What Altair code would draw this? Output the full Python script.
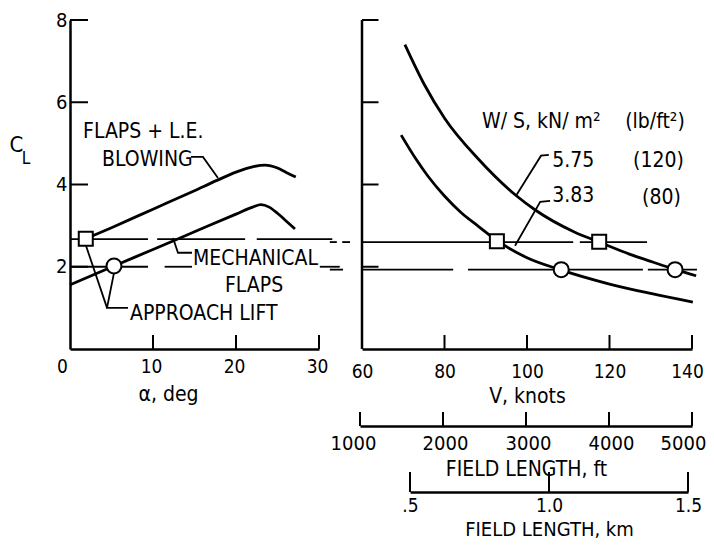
import altair as alt
import pandas as pd

FONT = "DejaVu Sans Condensed, Liberation Sans Narrow, DejaVu Sans, sans-serif"

# ---------------- data ----------------
# Left panel: C_L vs angle of attack
alpha_blowing = [1.9, 5, 10, 15, 17.7, 20, 22, 23.5, 25, 26, 27.2]
cl_blowing = [2.68, 2.95, 3.4, 3.85, 4.1, 4.3, 4.43, 4.47, 4.4, 4.3, 4.18]
alpha_mech = [0, 5.3, 10, 15, 20, 22, 23, 24, 25, 26, 27.1]
cl_mech = [1.56, 2.02, 2.42, 2.85, 3.28, 3.45, 3.51, 3.45, 3.3, 3.12, 2.92]

# Right panel: C_L vs approach speed for two wing loadings
v_575 = [70.4, 75, 80.1, 88.2, 97.5, 102, 111.6, 117.5, 125, 130, 136, 141]
cl_575 = [7.4, 6.45, 5.6, 4.62, 3.72, 3.38, 2.84, 2.6, 2.3, 2.13, 1.93, 1.78]
v_383 = [69.5, 73, 76, 80, 84, 88, 92.7, 100, 108, 120, 130, 140.2]
cl_383 = [5.2, 4.63, 4.2, 3.72, 3.32, 3.0, 2.64, 2.22, 1.93, 1.58, 1.35, 1.14]

# Approach-lift markers
left_square_alpha = [1.9]
left_square_cl = [2.68]
left_circle_alpha = [5.3]
left_circle_cl = [2.02]
right_square_v = [92.7, 117.5]
right_square_cl = [2.62, 2.61]
right_circle_v = [108.3, 135.9]
right_circle_cl = [1.93, 1.93]

# Dashed approach-lift lines (segments as drawn)
left_hi_cl = 2.67
left_hi_start = [0, 10.5, 22.5]
left_hi_end = [9.4, 21.1, 31.6]
left_lo_cl = 2.0
left_lo_start = [0, 11.4, 30.1]
left_lo_end = [9.4, 14.7, 32.5]
right_hi_cl = 2.6
right_hi_start = [52.2, 55.2, 60, 112.8]
right_hi_end = [53.9, 57.1, 111.2, 129.1]
right_lo_cl = 1.93
right_lo_start = [52.2, 60, 85.7, 129.3]
right_lo_end = [55.4, 82.1, 128.1, 141.2]

# Axis ticks
alpha_ticks = [0, 10, 20, 30]
v_ticks = [60, 80, 100, 120, 140]
cl_ticks = [2, 4, 6, 8]
ft_ticks = [1000, 2000, 3000, 4000, 5000]
km_ticks = [0.5, 1.0, 1.5]

# Annotations (left panel, in alpha / C_L units)
left_text = ["FLAPS + L.E.", "BLOWING", "MECHANICAL", "FLAPS", "APPROACH LIFT", "C", "L"]
left_text_a = [1.57, 3.86, 14.82, 18.67, 7.23, -7.3, -5.8]
left_text_c = [5.13, 4.45, 2.04, 1.39, 0.71, 4.8, 4.5]
left_text_size = [21, 21, 21, 21, 21, 22, 17]

# Leader lines (left)
lead_l_group = [0, 0, 0, 1, 1, 1, 2, 2, 3, 3, 3]
lead_l_a = [14.58, 16.02, 17.83, 12.41, 13.01, 14.7, 1.93, 4.46, 5.3, 4.46, 6.99]
lead_l_c = [4.67, 4.67, 4.16, 2.7, 2.34, 2.34, 2.51, 1.0, 1.85, 1.0, 1.0]

# Annotations (right panel, in knots / C_L units)
right_text = ["W/ S, kN/ m\u00b2", "(lb/ft\u00b2)", "5.75", "(120)", "3.83", "(80)"]
right_text_v = [89.1, 123.8, 106.1, 125.7, 106.1, 127.9]
right_text_c = [5.38, 5.38, 4.43, 4.43, 3.58, 3.53]

lead_r_group = [0, 0, 0, 1, 1, 1]
lead_r_v = [105.3, 103.4, 97.3, 105.6, 103.2, 97.1]
lead_r_c = [4.72, 4.7, 3.72, 3.6, 3.58, 2.51]

# ---------------- scales ----------------
SL = alt.Scale(domain=[0, 30], range=[0, 249], nice=False, zero=False)
SR = alt.Scale(domain=[60, 140], range=[292, 622], nice=False, zero=False)
SY = alt.Scale(domain=[0, 8], range=[341, 12], nice=False, zero=False)
SFT = alt.Scale(domain=[1000, 5000], range=[290, 622], nice=False, zero=False)
SKM = alt.Scale(domain=[0.5, 1.5], range=[340, 618], nice=False, zero=False)

common_axis = dict(ticks=False, grid=False, domainColor="black", domainWidth=2.5,
                   labelFont=FONT, labelColor="black", labelFlush=False,
                   titleFont=FONT, titleColor="black", titleFontWeight="normal",
                   titleBaseline="alphabetic", titleAlign="center")


def shift(first_val, first_dx, last_val, last_dx, other_dx=0):
    return {"condition": [{"test": f"datum.value == {first_val}", "value": first_dx},
                          {"test": f"datum.value == {last_val}", "value": last_dx}],
            "value": other_dx}


AX_L = alt.Axis(orient="bottom", values=alpha_ticks, labelFontSize=19, labelPadding=8,
                labelOffset=shift(0, -8, 30, -2, -2),
                title="\u03b1, deg", titleFontSize=21, titleX=98, titleY=51, **common_axis)
AY_L = alt.Axis(orient="left", values=cl_ticks, labelFontSize=20, labelPadding=3,
                title=None, **common_axis)
AX_R = alt.Axis(orient="bottom", values=v_ticks, labelFontSize=19, labelPadding=13,
                labelOffset=shift(60, 0, 140, -5, 0),
                title="V, knots", titleFontSize=21, titleY=53, **common_axis)
AX_FT = alt.Axis(orient="bottom", offset=77, values=ft_ticks, format="d", labelFontSize=20,
                 labelPadding=7, labelOffset=shift(1000, -7, 5000, -9, 2),
                 title="FIELD LENGTH, ft", titleFontSize=21, titleY=49,
                 **common_axis)
AX_KM = alt.Axis(orient="bottom", offset=143, values=km_ticks,
                 labelExpr="datum.value == 0.5 ? '.5' : format(datum.value, '.1f')",
                 labelFontSize=19, labelPadding=4,
                 title="FIELD LENGTH, km", titleFontSize=20, titleY=43, **common_axis)


def xl(f, axis=None):
    return alt.X(f, type="quantitative", scale=SL, axis=axis)


def xr(f, axis=None):
    return alt.X(f, type="quantitative", scale=SR, axis=axis)


def yc(f, axis=None):
    return alt.Y(f, type="quantitative", scale=SY, axis=axis)


# ---------------- left panel ----------------
df_lxt = pd.DataFrame({"a": alpha_ticks[1:]})
l_xticks = alt.Chart(df_lxt).mark_rule(color="black", strokeWidth=2).encode(
    x=xl("a", AX_L), y=alt.value(341), y2=alt.value(327))

df_lyt = pd.DataFrame({"c": cl_ticks})
l_yticks = alt.Chart(df_lyt).mark_rule(color="black", strokeWidth=2).encode(
    y=yc("c", AY_L), x=alt.value(0), x2=alt.value(18))

df_ldash = pd.DataFrame({
    "a0": left_hi_start + left_lo_start,
    "a1": left_hi_end + left_lo_end,
    "c": [left_hi_cl] * len(left_hi_start) + [left_lo_cl] * len(left_lo_start)})
l_dash = alt.Chart(df_ldash).mark_rule(color="black", strokeWidth=1.8).encode(
    x=xl("a0"), x2="a1", y=yc("c"))

df_lcurve = pd.DataFrame({
    "a": alpha_blowing + alpha_mech,
    "c": cl_blowing + cl_mech,
    "s": ["blow"] * len(alpha_blowing) + ["mech"] * len(alpha_mech),
    "o": list(range(len(alpha_blowing))) + list(range(len(alpha_mech)))})
l_curves = alt.Chart(df_lcurve).mark_line(color="black", strokeWidth=2.8,
                                          interpolate="monotone").encode(
    x=xl("a"), y=yc("c"), detail="s:N", order="o:Q")

df_llead = pd.DataFrame({"a": lead_l_a, "c": lead_l_c, "g": lead_l_group,
                         "o": list(range(len(lead_l_a)))})
l_lead = alt.Chart(df_llead).mark_line(color="black", strokeWidth=1.8).encode(
    x=xl("a"), y=yc("c"), detail="g:N", order="o:Q")

df_lsq = pd.DataFrame({"a": left_square_alpha, "c": left_square_cl})
l_sq = alt.Chart(df_lsq).mark_point(shape="square", size=196, filled=True, fill="white",
                                     stroke="black", strokeWidth=2, opacity=1).encode(
    x=xl("a"), y=yc("c"))
df_lci = pd.DataFrame({"a": left_circle_alpha, "c": left_circle_cl})
l_ci = alt.Chart(df_lci).mark_point(shape="circle", size=225, filled=True, fill="white",
                                     stroke="black", strokeWidth=2, opacity=1).encode(
    x=xl("a"), y=yc("c"))

df_ltext = pd.DataFrame({"a": left_text_a, "c": left_text_c, "t": left_text,
                         "s": left_text_size})
l_text = alt.Chart(df_ltext).mark_text(align="left", baseline="alphabetic", font=FONT,
                                       color="black").encode(
    x=xl("a"), y=yc("c"), text="t:N", size=alt.Size("s:Q", scale=None, legend=None))

# ---------------- right panel ----------------
df_ryl = pd.DataFrame({"v": [60], "c0": [0], "c1": [8]})
r_yline = alt.Chart(df_ryl).mark_rule(color="black", strokeWidth=2.5).encode(
    x=xr("v", AX_R), y=yc("c0"), y2="c1")

df_rxt = pd.DataFrame({"v": v_ticks[1:]})
r_xticks = alt.Chart(df_rxt).mark_rule(color="black", strokeWidth=2).encode(
    x=xr("v"), y=alt.value(341), y2=alt.value(327))

TICK_LEN_KNOTS = 4
df_ryt = pd.DataFrame({"c": cl_ticks, "v0": [v_ticks[0]] * len(cl_ticks),
                       "v1": [v_ticks[0] + TICK_LEN_KNOTS] * len(cl_ticks)})
r_yticks = alt.Chart(df_ryt).mark_rule(color="black", strokeWidth=2).encode(
    x=xr("v0"), x2="v1", y=yc("c"))

df_rdash = pd.DataFrame({
    "v0": right_hi_start + right_lo_start,
    "v1": right_hi_end + right_lo_end,
    "c": [right_hi_cl] * len(right_hi_start) + [right_lo_cl] * len(right_lo_start)})
r_dash = alt.Chart(df_rdash).mark_rule(color="black", strokeWidth=1.8).encode(
    x=xr("v0"), x2="v1", y=yc("c"))

df_rcurve = pd.DataFrame({
    "v": v_575 + v_383,
    "c": cl_575 + cl_383,
    "s": ["5.75"] * len(v_575) + ["3.83"] * len(v_383),
    "o": list(range(len(v_575))) + list(range(len(v_383)))})
r_curves = alt.Chart(df_rcurve).mark_line(color="black", strokeWidth=2.8,
                                          interpolate="monotone").encode(
    x=xr("v"), y=yc("c"), detail="s:N", order="o:Q")

df_rlead = pd.DataFrame({"v": lead_r_v, "c": lead_r_c, "g": lead_r_group,
                         "o": list(range(len(lead_r_v)))})
r_lead = alt.Chart(df_rlead).mark_line(color="black", strokeWidth=1.8).encode(
    x=xr("v"), y=yc("c"), detail="g:N", order="o:Q")

df_rsq = pd.DataFrame({"v": right_square_v, "c": right_square_cl})
r_sq = alt.Chart(df_rsq).mark_point(shape="square", size=196, filled=True, fill="white",
                                     stroke="black", strokeWidth=2, opacity=1).encode(
    x=xr("v"), y=yc("c"))
df_rci = pd.DataFrame({"v": right_circle_v, "c": right_circle_cl})
r_ci = alt.Chart(df_rci).mark_point(shape="circle", size=225, filled=True, fill="white",
                                     stroke="black", strokeWidth=2, opacity=1).encode(
    x=xr("v"), y=yc("c"))

df_rtext = pd.DataFrame({"v": right_text_v, "c": right_text_c, "t": right_text})
r_text = alt.Chart(df_rtext).mark_text(align="left", baseline="alphabetic", font=FONT,
                                       fontSize=21, color="black").encode(
    x=xr("v"), y=yc("c"), text="t:N")

# ---------------- field length scales ----------------
df_ft = pd.DataFrame({"f": ft_ticks})
ft_layer = alt.Chart(df_ft).mark_rule(color="black", strokeWidth=2).encode(
    x=alt.X("f:Q", scale=SFT, axis=AX_FT), y=alt.value(418), y2=alt.value(404))

df_km = pd.DataFrame({"k": km_ticks})
km_layer = alt.Chart(df_km).mark_rule(color="black", strokeWidth=2).encode(
    x=alt.X("k:Q", scale=SKM, axis=AX_KM), y=alt.value(484), y2=alt.value(464))

chart = alt.layer(
    l_xticks, l_yticks, l_dash, l_curves, l_lead, l_sq, l_ci, l_text,
    r_yline, r_xticks, r_yticks, r_dash, r_curves, r_lead, r_sq, r_ci, r_text,
    ft_layer, km_layer,
).resolve_scale(
    x="independent", y="independent"
).properties(
    width=636, height=341,
    autosize=alt.AutoSizeParams(type="none"),
    padding={"left": 62, "top": 0, "right": 0, "bottom": 191},
    background="white",
).configure_view(stroke=None)

chart.save("out.html", embed_options={"renderer": "svg", "actions": False})
